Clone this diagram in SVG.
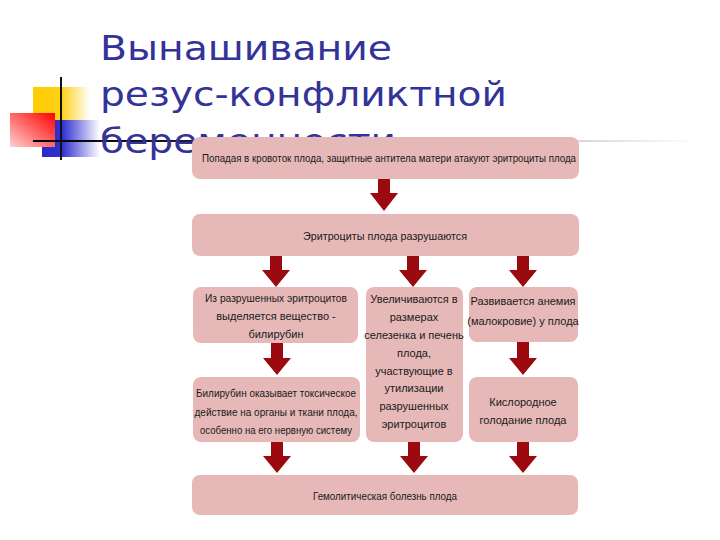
<svg xmlns="http://www.w3.org/2000/svg" width="720" height="540" viewBox="0 0 720 540">
<defs>
<linearGradient id="gY" x1="0" y1="0" x2="1" y2="0"><stop offset="0" stop-color="#FFCC00"/><stop offset="0.5" stop-color="#FFD21A"/><stop offset="1" stop-color="#FFFFFF"/></linearGradient>
<linearGradient id="gB" x1="0" y1="0" x2="1" y2="0"><stop offset="0" stop-color="#2B2BC8"/><stop offset="0.35" stop-color="#3030D0"/><stop offset="1" stop-color="#FFFFFF"/></linearGradient>
<linearGradient id="gR" x1="1" y1="0" x2="0" y2="1"><stop offset="0" stop-color="#FF0000"/><stop offset="1" stop-color="#FFD0D0"/></linearGradient>
<linearGradient id="gL" gradientUnits="userSpaceOnUse" x1="33" y1="0" x2="700" y2="0"><stop offset="0" stop-color="#000000"/><stop offset="0.3" stop-color="#222222"/><stop offset="0.82" stop-color="#D8D8D8"/><stop offset="1" stop-color="#FFFFFF"/></linearGradient>
</defs>
<style>
.title{font-family:"DejaVu Sans","Liberation Sans",sans-serif;font-size:34px;fill:#333399}
.box{fill:#E6B9B8}
.arr{fill:#9B0A0E}
.t{font-family:"Liberation Sans","DejaVu Sans",sans-serif;font-size:11px;fill:#1a1a1a;text-anchor:middle}
</style>
<rect width="720" height="540" fill="#FFFFFF"/>
<g id="deco">
<rect x="33" y="87" width="57" height="33" fill="url(#gY)"/>
<rect x="42" y="120" width="58" height="37" fill="url(#gB)"/>
<rect x="10" y="113" width="45" height="34" fill="url(#gR)"/>
<line x1="61" y1="77" x2="61" y2="160" stroke="#111" stroke-width="2"/>
<line x1="33" y1="141" x2="700" y2="141" stroke="url(#gL)" stroke-width="2"/>
</g>
<g id="title">
<text class="title" x="100" y="60" textLength="292" lengthAdjust="spacingAndGlyphs">Вынашивание</text>
<text class="title" x="100" y="106" textLength="407" lengthAdjust="spacingAndGlyphs">резус-конфликтной</text>
<text class="title" x="100" y="153" textLength="296" lengthAdjust="spacingAndGlyphs">беременности</text>
</g>
<g id="connectors">
<path class="arr" d="M378,178H390V193H398L384,211L370,193H378Z"/>
<path class="arr" d="M270,256H282V270H290L276,287L262,270H270Z"/>
<path class="arr" d="M407,256H419V270H427L413,287L399,270H407Z"/>
<path class="arr" d="M517,256H529V270H537L523,287L509,270H517Z"/>
<path class="arr" d="M271,343H283V358H291L277,375L263,358H271Z"/>
<path class="arr" d="M517,342H529V358H537L523,375L509,358H517Z"/>
<path class="arr" d="M271,442H283V456H291L277,473L263,456H271Z"/>
<path class="arr" d="M408,442H420V456H428L414,473L400,456H408Z"/>
<path class="arr" d="M517,442H529V456H537L523,473L509,456H517Z"/>
</g>
<g id="n1">
<rect class="box" x="192" y="137" width="387" height="42" rx="8"/>
<text class="t" x="389" y="162" textLength="374" lengthAdjust="spacingAndGlyphs">Попадая в кровоток плода, защитные антитела матери атакуют эритроциты плода</text>
</g>
<g id="n2">
<rect class="box" x="192" y="214" width="387" height="42" rx="8"/>
<text class="t" x="385" y="240" textLength="164" lengthAdjust="spacingAndGlyphs">Эритроциты плода разрушаются</text>
</g>
<g id="n3">
<rect class="box" x="193" y="287" width="165" height="56" rx="8"/>
<text class="t" x="276" y="302" textLength="142" lengthAdjust="spacingAndGlyphs">Из разрушенных эритроцитов</text>
<text class="t" x="276" y="320">выделяется вещество -</text>
<text class="t" x="276" y="338">билирубин</text>
</g>
<g id="n4">
<rect class="box" x="366" y="287" width="97" height="155" rx="8"/>
<text class="t" x="414" y="303">Увеличиваются в</text>
<text class="t" x="414" y="321">размерах</text>
<text class="t" x="414" y="339">селезенка и печень</text>
<text class="t" x="414" y="357">плода,</text>
<text class="t" x="414" y="375">участвующие в</text>
<text class="t" x="414" y="392">утилизации</text>
<text class="t" x="414" y="410">разрушенных</text>
<text class="t" x="414" y="428">эритроцитов</text>
</g>
<g id="n5">
<rect class="box" x="469" y="287" width="109" height="55" rx="8"/>
<text class="t" x="523" y="305">Развивается анемия</text>
<text class="t" x="523" y="325">(малокровие) у плода</text>
</g>
<g id="n6">
<rect class="box" x="193" y="377" width="167" height="65" rx="8"/>
<text class="t" x="276" y="397" textLength="160" lengthAdjust="spacingAndGlyphs">Билирубин оказывает токсическое</text>
<text class="t" x="276" y="416" textLength="163" lengthAdjust="spacingAndGlyphs">действие на органы и ткани плода,</text>
<text class="t" x="276" y="434" textLength="152" lengthAdjust="spacingAndGlyphs">особенно на его нервную систему</text>
</g>
<g id="n7">
<rect class="box" x="469" y="377" width="109" height="65" rx="8"/>
<text class="t" x="523" y="406">Кислородное</text>
<text class="t" x="523" y="424">голодание плода</text>
</g>
<g id="n8">
<rect class="box" x="192" y="475" width="386" height="40" rx="8"/>
<text class="t" x="385" y="500" textLength="144" lengthAdjust="spacingAndGlyphs">Гемолитическая болезнь плода</text>
</g>
</svg>
